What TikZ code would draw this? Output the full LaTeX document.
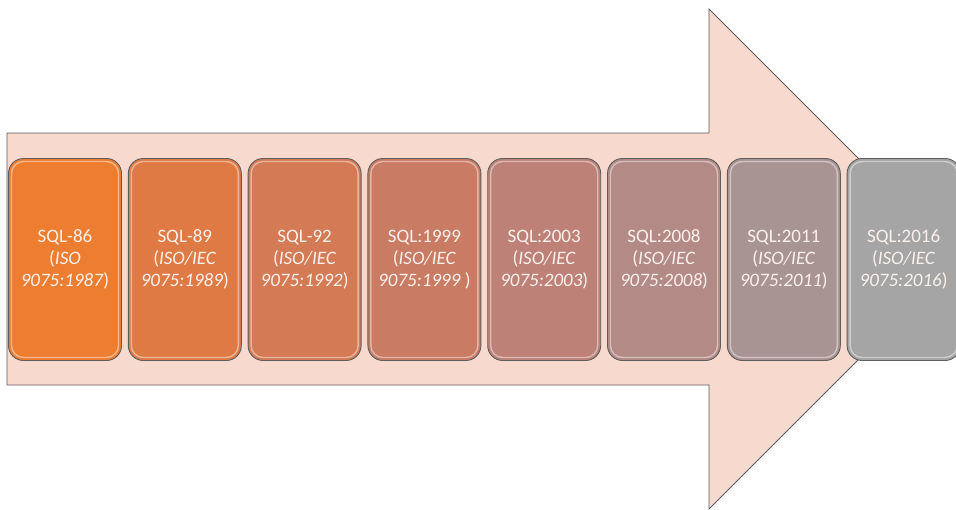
\documentclass[tikz,border=0pt]{standalone}
\usepackage{fontspec}
\setmainfont{Carlito}
\definecolor{arrowfill}{HTML}{F8D9CE}
\definecolor{edge}{HTML}{5E5E5E}
\definecolor{cA}{HTML}{ED7D31}
\definecolor{cB}{HTML}{DF7A45}
\definecolor{cC}{HTML}{D47A55}
\definecolor{cD}{HTML}{C97B64}
\definecolor{cE}{HTML}{BD8177}
\definecolor{cF}{HTML}{B38A86}
\definecolor{cG}{HTML}{A99494}
\definecolor{cH}{HTML}{A5A5A5}
\definecolor{txt}{HTML}{FBF1EC}
\tikzset{
  stdbox/.style={draw=edge, line width=0.9pt, rounded corners=15pt,
    minimum width=113pt, minimum height=202pt, inner sep=0pt,
    align=center, text=txt, font=\fontsize{19}{22}\selectfont,
    path picture={\draw[white, opacity=0.45, line width=1.4pt, rounded corners=12pt]
      ([shift={(3pt,-3pt)}]path picture bounding box.north west) rectangle
      ([shift={(-3pt,3pt)}]path picture bounding box.south east);}},
  bigarrow/.style={draw=edge, line width=0.9pt, fill=arrowfill}
}
\begin{document}
\begin{tikzpicture}[x=1pt,y=-1pt]
\useasboundingbox (0,0) rectangle (956,509);
\clip (0,0) rectangle (956,509);
\draw[bigarrow] (7,133) -- (709,133) -- (709,9) -- (959,259) -- (709,509) -- (709,385) -- (7,385) -- cycle;
\node[stdbox, fill=cA] (b1) at (65,259.5) {SQL-86\\(\textit{ISO}\\\textit{9075:1987})};
\node[stdbox, fill=cB] (b2) at (184.8,259.5) {SQL-89\\(\textit{ISO/IEC}\\\textit{9075:1989})};
\node[stdbox, fill=cC] (b3) at (304.6,259.5) {SQL-92\\(\textit{ISO/IEC}\\\textit{9075:1992})};
\node[stdbox, fill=cD] (b4) at (424.4,259.5) {SQL:1999\\(\textit{ISO/IEC}\\\textit{9075:1999} )};
\node[stdbox, fill=cE] (b5) at (544.2,259.5) {SQL:2003\\(\textit{ISO/IEC}\\\textit{9075:2003})};
\node[stdbox, fill=cF] (b6) at (664,259.5) {SQL:2008\\(\textit{ISO/IEC}\\\textit{9075:2008})};
\node[stdbox, fill=cG] (b7) at (783.8,259.5) {SQL:2011\\(\textit{ISO/IEC}\\\textit{9075:2011})};
\node[stdbox, fill=cH] (b8) at (903.6,259.5) {SQL:2016\\(\textit{ISO/IEC}\\\textit{9075:2016})};
\end{tikzpicture}
\end{document}
